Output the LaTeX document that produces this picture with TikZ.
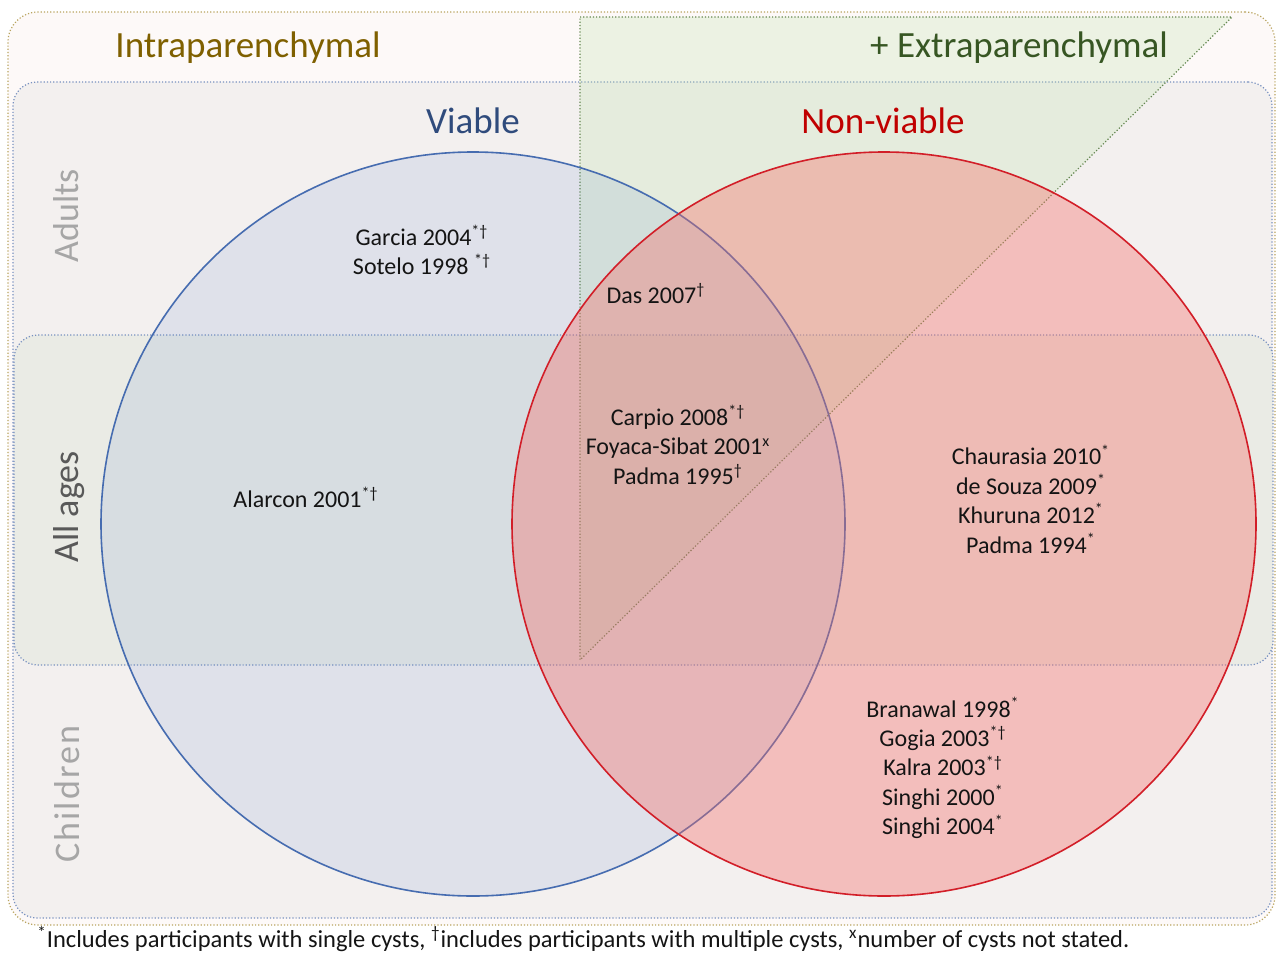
\documentclass[tikz,border=0pt]{standalone}
\usepackage{fontspec}
\setmainfont{Carlito}

\definecolor{outerfill}{RGB}{253,249,248}
\definecolor{outerline}{RGB}{185,164,95}
\definecolor{agefill}{RGB}{243,240,239}
\definecolor{allfill}{RGB}{234,235,229}
\definecolor{boxline}{RGB}{120,145,192}
\definecolor{viableline}{RGB}{70,108,176}
\definecolor{viablefill}{RGB}{68,114,196}
\definecolor{nonviableline}{RGB}{210,30,40}
\definecolor{nonviablefill}{RGB}{245,110,105}
\definecolor{extraline}{RGB}{100,135,80}
\definecolor{extrafill}{RGB}{190,225,170}
\definecolor{intracol}{RGB}{127,96,0}
\definecolor{extracol}{RGB}{55,86,35}
\definecolor{viablecol}{RGB}{47,75,124}
\definecolor{nonviablecol}{RGB}{192,0,0}
\definecolor{sidecol}{RGB}{166,166,166}
\definecolor{allcol}{RGB}{89,89,89}
\definecolor{studycol}{RGB}{20,20,20}

\begin{document}
\begin{tikzpicture}[x=0.5pt,y=-0.5pt,
  heading/.style={anchor=base, font=\fontsize{18.5}{22}\selectfont},
  sidelabel/.style={anchor=base, rotate=90, font=\fontsize{18}{22}\selectfont},
  study/.style={align=center, text=studycol, font=\fontsize{12}{14.7}\selectfont},
  dottedbox/.style={rectangle, densely dotted, line width=0.6pt}]

  \useasboundingbox (0,0) rectangle (1277,952);

  % background boxes
  \node[dottedbox,
        draw = outerline,
        fill = outerfill,
        rounded corners = 15pt,
        minimum width = 633.5pt,
        minimum height = 456.5pt
        ] (outer) at (641.5,468.5) {};

  \node[dottedbox,
        draw = boxline,
        fill = agefill,
        rounded corners = 12pt,
        minimum width = 629.5pt,
        minimum height = 418pt
        ] (ages) at (642.5,500) {};

  \node[dottedbox,
        draw = boxline,
        fill = allfill,
        rounded corners = 12pt,
        minimum width = 629.5pt,
        minimum height = 165pt
        ] (allages) at (643.5,500) {};

  % extraparenchymal triangle
  \coordinate (extratop) at (580,17);
  \coordinate (extraright) at (1232,17);
  \coordinate (extrabottom) at (580,660);
  \path[draw = extraline,
        densely dotted,
        line width = 0.6pt,
        fill = extrafill,
        fill opacity = 0.26]
    (extratop) -- (extraright) -- (extrabottom) -- cycle;

  % circles
  \node[circle,
        draw = viableline,
        line width = 0.8pt,
        fill = viablefill,
        fill opacity = 0.115,
        inner sep = 0pt,
        minimum size = 372pt
        ] (viable) at (473,524) {};

  \node[circle,
        draw = nonviableline,
        line width = 0.8pt,
        fill = nonviablefill,
        fill opacity = 0.38,
        inner sep = 0pt,
        minimum size = 372pt
        ] (nonviable) at (884,524) {};

  % headings
  \node[heading, text = intracol] (intra) at (248,58) {Intraparenchymal};
  \node[heading, text = extracol] (extra) at (1019,58) {+ Extraparenchymal};
  \node[heading, text = viablecol] (viablelab) at (473,134) {Viable};
  \node[heading, text = nonviablecol] (nonviablelab) at (883,134) {Non-viable};

  % age groups
  \node[sidelabel, text = sidecol] (adults) at (78,216) {Adults};
  \node[sidelabel, text = allcol] (allageslab) at (78,507) {All ages};
  \node[sidelabel, text = sidecol,
        font = \fontsize{18}{22}\selectfont\addfontfeature{LetterSpace=6}
        ] (children) at (79,794) {Children};

  % studies
  \node[study] (garcia) at (422,250)
    {Garcia 2004\textsuperscript{*†}\\Sotelo 1998 \textsuperscript{*†}};
  \node[study, anchor=base] (das) at (656,303) {Das 2007\textsuperscript{†}};
  \node[study] (carpio) at (678,445)
    {Carpio 2008\textsuperscript{*†}\\Foyaca-Sibat 2001\textsuperscript{x}\\Padma 1995\textsuperscript{†}};
  \node[study, anchor=base] (alarcon) at (306,507) {Alarcon 2001\textsuperscript{*†}};
  \node[study] (chaurasia) at (1031,499)
    {Chaurasia 2010\textsuperscript{*}\\de Souza 2009\textsuperscript{*}\\Khuruna 2012\textsuperscript{*}\\Padma 1994\textsuperscript{*}};
  \node[study] (branawal) at (943,768)
    {Branawal 1998\textsuperscript{*}\\Gogia 2003\textsuperscript{*†}\\Kalra 2003\textsuperscript{*†}\\Singhi 2000\textsuperscript{*}\\Singhi 2004\textsuperscript{*}};

  % footnote
  \node[anchor=base west, text=studycol, inner sep=0pt,
        font=\fontsize{12.25}{14}\selectfont] (note) at (37,947)
    {\textsuperscript{*}Includes participants with single cysts, \textsuperscript{†}includes participants with multiple cysts, \textsuperscript{x}number of cysts not stated.};

\end{tikzpicture}
\end{document}
